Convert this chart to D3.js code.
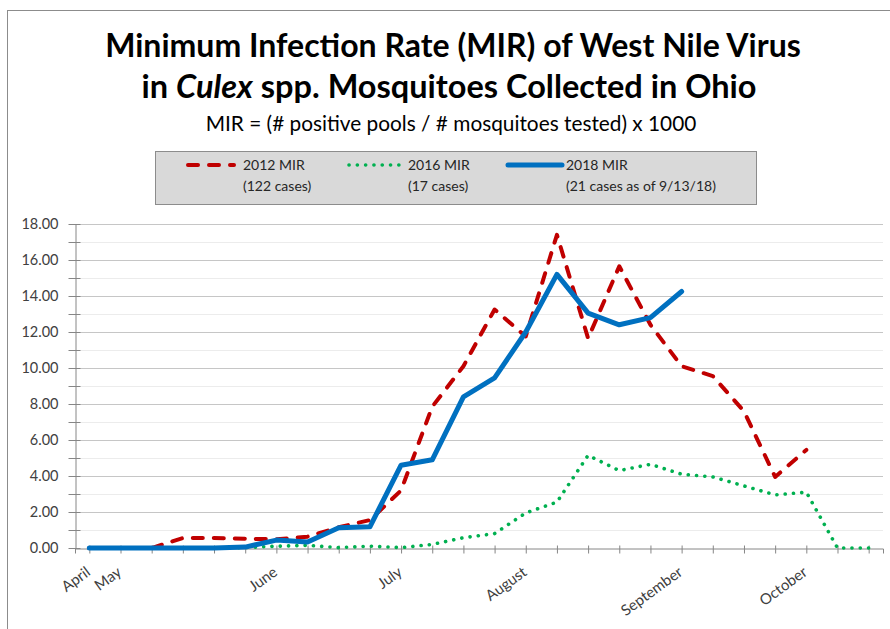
<!DOCTYPE html>
<html>
<head>
<meta charset="utf-8">
<script src="https://cdn.jsdelivr.net/npm/d3@7"></script>
<style>
  html, body { margin: 0; padding: 0; background: #fff; }
  svg { display: block; font-family: Lato, "Open Sans", sans-serif; }
</style>
</head>
<body>
<div id="chart"></div>
<script>
// weekly categories (label only on the first week of a month)
const weekLabels = ['April', 'May', '', '', '', '', 'June', '', '', '', 'July', '', '', '',
  'August', '', '', '', '', 'September', '', '', '', 'October', '', ''];

// MIR per week
const mir2012 = [0, 0, 0, 0.55, 0.55, 0.52, 0.48, 0.63, 1.15, 1.55, 3.2, 7.85, 10.1, 13.25,
  11.75, 17.4, 11.65, 15.65, 12.4, 10.1, 9.55, 7.6, 3.95, 5.45];
const mir2016 = [0, 0, 0, 0, 0, 0.02, 0.1, 0.15, 0.02, 0.1, 0.02, 0.2, 0.57, 0.8,
  1.95, 2.55, 5.15, 4.3, 4.65, 4.1, 3.95, 3.45, 2.95, 3.1, 0, 0];
const mir2018 = [0, 0, 0, 0, 0, 0.05, 0.44, 0.33, 1.12, 1.18, 4.6, 4.9, 8.4, 9.45,
  12.0, 15.2, 13.05, 12.4, 12.8, 14.25];

const yTicks = d3.range(0, 19, 1);

const series = [
  { name: '2012 MIR', note: '(122 cases)', values: mir2012, color: '#c00000', width: 4, dash: '10 11', cap: 'round' },
  { name: '2016 MIR', note: '(17 cases)', values: mir2016, color: '#00b050', width: 3.6, dash: '0.1 8.2', cap: 'round' },
  { name: '2018 MIR', note: '(21 cases as of 9/13/18)', values: mir2018, color: '#0070c0', width: 5, dash: null, cap: 'round' },
];

const W = 890, H = 629;
const svg = d3.select('#chart').append('svg').attr('width', W).attr('height', H);

// outer frame
svg.append('rect').attr('x', 7.5).attr('y', 10.5).attr('width', 920).attr('height', 700)
  .attr('fill', '#fff').attr('stroke', '#8c8c8c');

// titles, fitted to the widths in the picture
function fitText(sel, target) {
  const w = sel.node().getComputedTextLength();
  const fs = parseFloat(sel.attr('font-size'));
  sel.attr('font-size', fs * target / w);
}
const cx = 453;
const t1 = svg.append('text').attr('x', cx).attr('y', 57).attr('text-anchor', 'middle')
  .attr('font-size', 30).attr('font-weight', 700).attr('fill', '#000')
  .text('Minimum Infection Rate (MIR) of West Nile Virus');
fitText(t1, 696);
const t2 = svg.append('text').attr('x', cx - 4).attr('y', 98).attr('text-anchor', 'middle')
  .attr('font-size', 30).attr('font-weight', 700).attr('fill', '#000');
t2.append('tspan').text('in ');
t2.append('tspan').attr('font-style', 'italic').text('Culex');
t2.append('tspan').text(' spp. Mosquitoes Collected in Ohio');
fitText(t2, 615);
const t3 = svg.append('text').attr('x', cx - 2).attr('y', 131).attr('text-anchor', 'middle')
  .attr('font-size', 17).attr('fill', '#000')
  .text('MIR = (# positive pools / # mosquitoes tested) x 1000');
fitText(t3, 491);

// legend
const lg = svg.append('g');
lg.append('rect').attr('x', 155.5).attr('y', 151.5).attr('width', 601).attr('height', 53)
  .attr('fill', '#d9d9d9').attr('stroke', '#8c8c8c');
const legendX = [[188, 234, 243], [349, 399, 408], [508, 562, 566]];
series.forEach((s, i) => {
  const [a, b, tx] = legendX[i];
  lg.append('line').attr('x1', a).attr('x2', b).attr('y1', 165).attr('y2', 165)
    .attr('stroke', s.color).attr('stroke-width', s.width)
    .attr('stroke-dasharray', s.dash).attr('stroke-linecap', s.cap);
  lg.append('text').attr('x', tx).attr('y', 170).attr('font-size', 14).attr('fill', '#262626').text(s.name);
  lg.append('text').attr('x', tx).attr('y', 191).attr('font-size', 14).attr('fill', '#262626').text(s.note);
});

// plot
const L = 75, R = 883, T = 224, B = 548;
const x = d3.scalePoint().domain(d3.range(weekLabels.length)).range([L, R]).padding(0.46);
const y = d3.scaleLinear().domain([0, 18]).range([B, T]);

const grid = svg.append('g');
grid.selectAll('line').data(yTicks.filter(d => d > 0)).join('line')
  .attr('x1', L).attr('x2', R)
  .attr('y1', d => y(d) + 0.5).attr('y2', d => y(d) + 0.5)
  .attr('stroke', d => d % 2 ? '#ececec' : '#c6c6c6').attr('stroke-width', 1);

const yAxis = svg.append('g').attr('transform', `translate(${L + 0.5},0)`)
  .call(d3.axisLeft(y).tickValues(yTicks).tickSize(7).tickSizeOuter(0).tickPadding(10)
    .tickFormat(d => d % 2 ? '' : d.toFixed(2)));
yAxis.select('.domain').attr('stroke', '#868686');
yAxis.selectAll('.tick line').attr('x1', 5).attr('stroke', '#868686');
yAxis.selectAll('.tick text').attr('font-family', 'Lato, sans-serif').attr('font-size', 14.5).attr('fill', '#404040');

const xAxis = svg.append('g').attr('transform', `translate(0,${B + 0.5})`)
  .call(d3.axisBottom(x).tickSize(5).tickSizeOuter(5).tickFormat(''));
xAxis.select('.domain').attr('stroke', '#868686');
xAxis.selectAll('.tick line').attr('y1', -3).attr('stroke', '#868686');

svg.append('g').selectAll('text').data(weekLabels.map((t, i) => ({ t, i })).filter(d => d.t)).join('text')
  .attr('transform', d => `translate(${x(d.i) - 1},${B + 22}) rotate(-36)`)
  .attr('text-anchor', 'end').attr('dy', '0.35em')
  .attr('font-size', 15).attr('fill', '#404040')
  .text(d => d.t);

const line = d3.line().x((d, i) => x(i)).y(d => y(d));
svg.append('g').selectAll('path').data(series).join('path')
  .attr('d', s => line(s.values))
  .attr('fill', 'none')
  .attr('stroke', s => s.color).attr('stroke-width', s => s.width)
  .attr('stroke-dasharray', s => s.dash).attr('stroke-linecap', s => s.cap)
  .attr('stroke-linejoin', 'round');
</script>
</body>
</html>
